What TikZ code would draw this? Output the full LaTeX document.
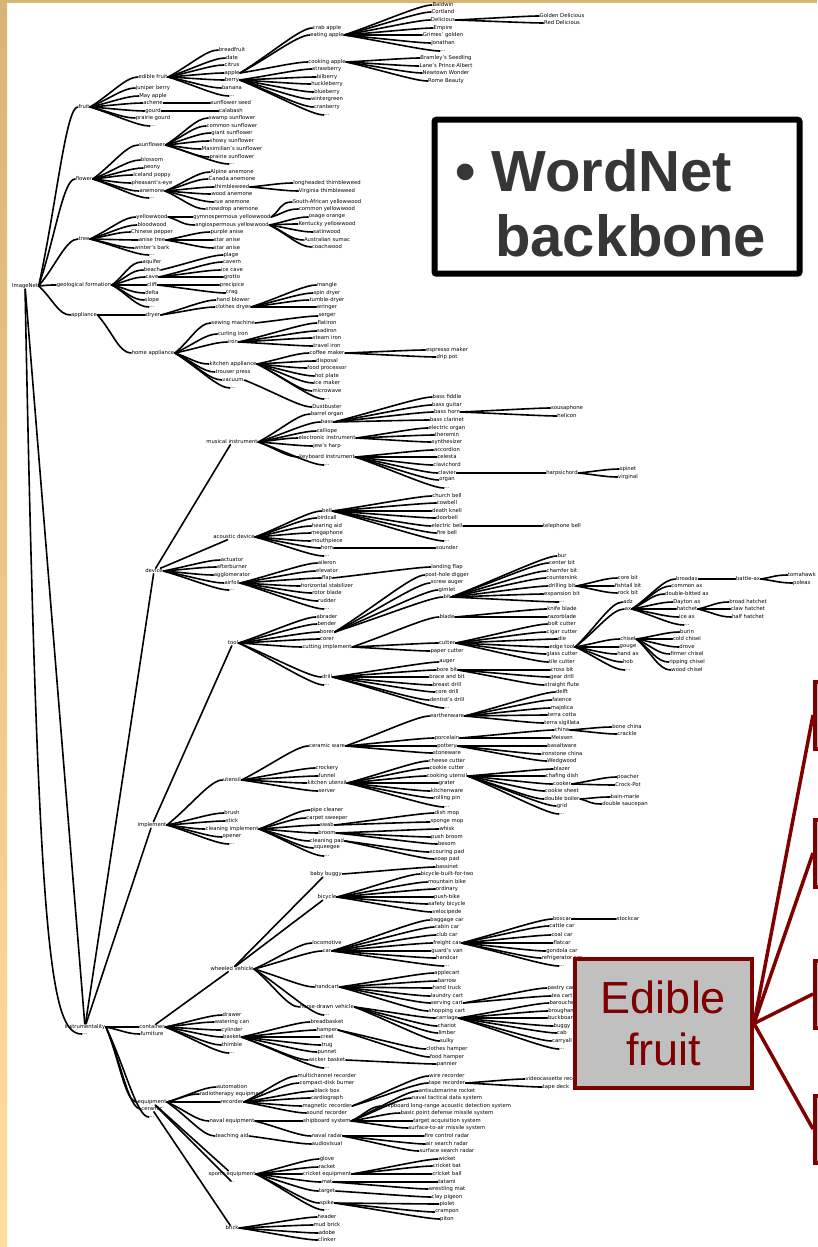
\documentclass[tikz,border=0pt]{standalone}
\usepackage{fontspec}
\setmainfont{DejaVu Sans}
\newfontfamily\headfont{Liberation Sans}
\usetikzlibrary{calc}

\definecolor{darkred}{HTML}{800000}
\definecolor{boxgray}{HTML}{C0C0C0}
\definecolor{headgray}{HTML}{363636}
\definecolor{goldtop}{HTML}{D8B574}
\definecolor{goldbot}{HTML}{FFDDA0}

\newcommand\nodefont{\fontsize{5.3}{5.3}\selectfont}
\newcommand\threedots{...}
% children of #1 in a column at x=#2
\newcommand\fan[3]{\foreach \n/\y/\txt in {#3}{%
  \node[lbl] (\n) at (#2,\y) {\txt};
  \draw[br] (#1.east) .. controls ($(#1.east)!0.45!(\n.west)$) and ($(\n.west)+(-12,0)$) .. (\n.west);}}

\begin{document}
\begin{tikzpicture}[x=1pt,y=-1pt,
  lbl/.style={font=\nodefont,inner sep=0.5pt},
  br/.style={line width=1.6pt,line cap=round},
  redline/.style={darkred,line width=3.5pt},
  sidebox/.style={draw=darkred,line width=4pt,fill=boxgray,minimum width=90pt,minimum height=67pt,anchor=west}
]
\useasboundingbox (0,0) rectangle (817,1247);
\shade[top color=goldtop,bottom color=goldbot] (0,0) rectangle (7,1247);
\fill[goldtop] (0,0) rectangle (817,3);

% root
\node[lbl] (root) at (25,286) {ImageNet};
\fan{root}{84}{fruit/107/fruit, flower/179/flower, tree/239/tree, geo/285/geological formation, appl/315/appliance}
\node[lbl] (instr) at (85,1027) {instrumentality};
\node[lbl] (rdots) at (85,1034) {\threedots};
\draw[br] (root) -- (instr);
\draw[br] (root) .. controls (38,950) and (50,1034) .. (rdots.west);

% fruit
\fan{fruit}{153}{edfruit/77/edible fruit, juniper/88/juniper berry, mayapple/96/May apple, achene/103/achene, gourd/111/gourd, prgourd/118/prairie gourd, frdots/126/\threedots}
\fan{edfruit}{232}{breadfr/50/breadfruit, date/58/date, citrus/65/citrus, apple/73/apple, berry/80/berry, banana/88/banana, efdots/96/\threedots}
\fan{apple}{327}{crabap/28/crab apple, eatap/35/eating apple, cookap/62/cooking apple}
\fan{berry}{327}{strawb/69/strawberry, bilb/77/bilberry, huckleb/84/huckleberry, blueb/92/blueberry, winterg/99/wintergreen, cranb/107/cranberry, berdots/115/\threedots}
\fan{eatap}{443}{baldwin/5/Baldwin, cortland/12/Cortland, delicious/20/Delicious, empire/28/Empire, grimes/35/Grimes' golden, jonathan/43/Jonathan, eatdots/51/\threedots}
\fan{delicious}{562}{golddel/16/Golden Delicious, reddel/23/Red Delicious}
\fan{cookap}{446}{bramley/58/Bramley's Seedling, lanes/66/Lane's Prince Albert, newtown/73/Newtown Wonder, rome/81/Rome Beauty}
\fan{achene}{231}{samara/103/sunflower seed}
\fan{gourd}{231}{calabash/111/calabash}

% flower
\fan{flower}{152}{sunflower/145/sunflower, blossom/160/blossom, peony/168/peony, celandine/175/Iceland poppy, pheasant/183/pheasant's-eye, anemone/191/anemone, fldots/198/\threedots}
\fan{sunflower}{232}{swampsf/118/swamp sunflower, commonsf/126/common sunflower, giantsf/133/giant sunflower, showysf/141/showy sunflower, maxsf/149/Maximilian's sunflower, prairiesf/157/prairie sunflower, sfdots/164/\threedots}
\fan{anemone}{232}{alpanem/172/Alpine anemone, canadanem/179/Canada anemone, thimble/187/thimbleweed, woodanem/194/wood anemone, rueanem/202/rue anemone, snowanem/209/snowdrop anemone}
\fan{thimble}{327}{longthimb/183/longheaded thimbleweed, virgthimb/191/Virginia thimbleweed}

% tree
\fan{tree}{152}{yellowwd/217/yellowwood, bloodwd/225/bloodwood, chpepper/232/Chinese pepper, anise/240/anise tree, winters/248/winter's bark, trdots/255/\threedots}
\fan{yellowwd}{232}{gymyw/217/gymnospermous yellowwood, angyw/225/angiospermous yellowwood}
\fan{gymyw}{327}{safyw/202/South-African yellowwood, commyw/209/common yellowwood}
\fan{angyw}{327}{osage/217/osage orange, kentyw/224/Kentucky yellowwood, satinwd/232/satinwood, aussumac/240/Australian sumac, coachwd/247/coachwood}
\fan{anise}{227}{purpanise/232/purple anise, staranise/240/star anise, staranisb/248/star anise}

% geological formation
\fan{geo}{152}{aquifer/262/aquifer, beach/270/beach, cave/277/cave, cliff/285/cliff, delta/293/delta, slope/300/slope, geodots/307/\threedots}
\fan{beach}{231}{plage/255/plage}
\fan{cave}{232}{cavern/262/cavern, icecave/270/ice cave, grotto/277/grotto}
\fan{cliff}{232}{precipice/285/precipice, crag/293/crag}

% appliance
\fan{appl}{153}{dryer/315/dryer, homeapp/353/home appliance}
\fan{dryer}{233}{handblow/300/hand blower, clothdry/307/clothes dryer}
\fan{clothdry}{327}{mangle/285/mangle, spindry/293/spin dryer, tumbledry/300/tumble-dryer, wringer/307/wringer}
\fan{homeapp}{233}{sewing/323/sewing machine, curling/334/curling iron, iron/342/iron, kitchapp/364/kitchen appliance, trouser/372/trouser press, vacuum/380/vacuum, hadots/388/\threedots}
\fan{sewing}{327}{serger/316/serger}
\fan{iron}{327}{flatiron/323/flatiron, sadiron/331/sadiron, steamiron/338/steam iron, traveliron/346/travel iron}
\fan{kitchapp}{327}{coffee/353/coffee maker, disposal/361/disposal, foodproc/368/food processor, hotplate/376/hot plate, icemaker/383/ice maker, microwave/391/microwave, kadots/399/\threedots}
\fan{coffee}{447}{espresso/350/espresso maker, drippot/357/drip pot}
\fan{vacuum}{327}{dustbust/407/Dustbuster}

% instrumentality
\node[lbl] (device) at (154,571) {device};
\node[lbl] (implement) at (152,825) {implement};
\draw[br] (instr) -- (device);
\draw[br] (instr) -- (implement);
\fan{instr}{152}{container/1027/container, furniture/1034/furniture, equipment/1102/equipment, ceramic/1109/ceramic, indots/1117/\threedots}

% device
\node[lbl] (musical) at (232,442) {musical instrument};
\node[lbl] (acoustic) at (234,537) {acoustic device};
\draw[br] (device) -- (musical);
\draw[br] (device) -- (acoustic);
\fan{device}{232}{actuator/560/actuator, afterburn/567/afterburner, agglom/575/agglomerator, airfoil/583/airfoil, devdots/590/\threedots}
\fan{musical}{327}{barrel/414/barrel organ, bass/422/bass, calliope/431/calliope, electronic/438/electronic instrument, jewsharp/446/jew's harp, keyboard/457/keyboard instrument, musdots/465/\threedots}
\fan{bass}{447}{bassfid/397/bass fiddle, bassguit/405/bass guitar, basshorn/412/bass horn, basscl/420/bass clarinet}
\fan{basshorn}{567}{sousaphone/408/sousaphone, helicon/416/helicon}
\fan{electronic}{447}{eorgan/428/electric organ, theremin/435/theremin, synth/442/synthesizer}
\fan{keyboard}{447}{accordion/450/accordion, celesta/457/celesta, clavichord/465/clavichord, clavier/473/clavier, organ/480/organ, kbdots/488/\threedots}
\fan{clavier}{562}{harpsi/473/harpsichord}
\fan{harpsi}{628}{spinet/469/spinet, virginal/477/virginal}
\fan{acoustic}{327}{bell/511/bell, birdcall/518/birdcall, hearing/526/hearing aid, megaphone/533/megaphone, mouthpiece/541/mouthpiece, horn/548/horn, acdots/556/\threedots}
\fan{bell}{447}{churchbell/496/church bell, cowbell/503/cowbell, deathknell/511/death knell, doorbell/518/doorbell, ebell/526/electric bell, firebell/533/fire bell, belldots/541/\threedots}
\fan{ebell}{562}{telbell/526/telephone bell}
\fan{horn}{447}{sounder/548/sounder}
\fan{airfoil}{327}{aileron/563/aileron, elevator/571/elevator, flap/578/flap, hstab/586/horizontal stabilizer, rotor/593/rotor blade, rudder/601/rudder, afdots/609/\threedots}
\fan{flap}{447}{landflap/567/landing flap}

% implement
\node[lbl] (tool) at (233,643) {tool};
\draw[br] (implement) -- (tool);
\fan{implement}{232}{utensil/780/utensil, brush/813/brush, stick/821/stick, cleaning/829/cleaning implement, opener/837/opener, impdots/844/\threedots}
\fan{tool}{327}{abrader/617/abrader, bender/624/bender, borer/632/borer, corer/639/corer, cutimpl/647/cutting implement, drill/677/drill, tooldots/685/\threedots}
\fan{borer}{447}{postdig/575/post-hole digger, screwaug/583/screw auger, gimlet/590/gimlet, bit/597/bit}
\fan{cutimpl}{447}{blade/617/blade, cutter/643/cutter, papercut/651/paper cutter}
\fan{bit}{562}{bur/556/bur, centerbit/563/center bit, chamfer/571/chamfer bit, countersink/578/countersink, drillbit/586/drilling bit, expbit/594/expansion bit, bitdots/602/\threedots}
\fan{drillbit}{628}{corebit/578/core bit, fishtail/586/fishtail bit, rockbit/593/rock bit}
\fan{blade}{562}{knifeblade/609/knife blade, razorblade/617/razorblade}
\fan{cutter}{562}{boltcut/624/bolt cutter, cigarcut/632/cigar cutter, die/639/die, edgetool/647/edge tool, glasscut/654/glass cutter, tilecut/662/tile cutter}
\fan{edgetool}{628}{adz/602/adz, ax/609/ax, chisel/639/chisel, gouge/647/gouge, handax/654/hand ax, hob/662/hob, etdots/670/\threedots}
\fan{ax}{687}{broadax/579/broadax, commonax/586/common ax, doubleax/594/double-bitted ax, dayton/602/Dayton ax, hatchet/609/hatchet, iceax/617/ice ax, axdots/625/\threedots}
\fan{broadax}{748}{battleax/579/battle-ax}
\fan{battleax}{802}{tomahawk/575/tomahawk, poleax/583/poleax}
\fan{hatchet}{748}{broadhat/602/broad hatchet, clawhat/609/claw hatchet, halfhat/617/half hatchet}
\fan{chisel}{687}{burin/632/burin, coldch/639/cold chisel, drove/647/drove, firmer/654/firmer chisel, ripping/662/ripping chisel, woodch/670/wood chisel}
\fan{drill}{447}{drauger/662/auger, borebit/670/bore bit, brace/677/brace and bit, breast/685/breast drill, coredrill/692/core drill, dentist/700/dentist's drill, drdots/708/\threedots}
\fan{borebit}{562}{crossbit/670/cross bit, geardr/677/gear drill, flute/685/straight flute}

% utensil
\fan{utensil}{327}{cerware/746/ceramic ware, crockery/768/crockery, funnel/776/funnel, kitchut/783/kitchen utensil, server/791/server}
\fan{cerware}{447}{earthen/716/earthenware, porcelain/738/porcelain, pottery/746/pottery, stoneware/753/stoneware}
\fan{earthen}{562}{delft/692/delft, faience/700/faience, majolica/708/majolica, terracotta/715/terra cotta, sigillata/723/terra sigillata}
\fan{porcelain}{562}{china/730/china, meissen/738/Meissen}
\fan{pottery}{562}{basalt/746/basaltware, ironstone/754/ironstone china, wedgwood/761/Wedgwood}
\fan{china}{627}{bonechina/727/bone china, crackle/734/crackle}
\fan{kitchut}{447}{cheesecut/761/cheese cutter, cookiecut/768/cookie cutter, cookut/776/cooking utensil, grater/783/grater, kitchware/791/kitchenware, rollpin/798/rolling pin, kudots/807/\threedots}
\fan{cookut}{562}{blazer/769/blazer, chafing/776/chafing dish, cooker/784/cooker, cooksheet/791/cookie sheet, dboiler/799/double boiler, grid/806/grid, cudots/814/\threedots}
\fan{cooker}{628}{poacher/777/poacher, crockpot/785/Crock-Pot}
\fan{dboiler}{625}{bainmarie/797/bain-marie, saucepan/804/double saucepan}

% cleaning implement
\fan{cleaning}{327}{pipecl/810/pipe cleaner, carpsw/818/carpet sweeper, swab/825/swab, broom/833/broom, cleanpad/841/cleaning pad, squeegee/848/squeegee, cldots/856/\threedots}
\fan{swab}{447}{dishmop/813/dish mop, spongemop/822/sponge mop}
\fan{broom}{447}{whisk/829/whisk, pushbroom/837/push broom, besom/844/besom}
\fan{cleanpad}{447}{scourpad/852/scouring pad, soappad/859/soap pad}

% container
\node[lbl] (wheeled) at (232,969) {wheeled vehicle};
\draw[br] (container) -- (wheeled);
\fan{container}{232}{drawer/1015/drawer, watercan/1022/watering can, cylinder/1030/cylinder, basket/1037/basket, thimble2/1045/thimble, condots/1053/\threedots}
\node[lbl] (babybuggy) at (326,874) {baby buggy};
\node[lbl] (bicycle) at (327,897) {bicycle};
\draw[br] (wheeled) -- (babybuggy);
\draw[br] (wheeled) -- (bicycle);
\fan{wheeled}{327}{locomotive/943/locomotive, car/951/car, handcart/987/handcart, horsedrawn/1007/horse-drawn vehicle, wvdots/1015/\threedots}
\fan{babybuggy}{447}{bassinet/867/bassinet}
\fan{bicycle}{447}{tandem/874/bicycle-built-for-two, mtbike/882/mountain bike, ordinary/889/ordinary, pushbike/897/push-bike, safetybike/904/safety bicycle, velocipede/912/velocipede}
\fan{car}{447}{baggage/920/baggage car, cabin/927/cabin car, club/935/club car, freight/943/freight car, guards/951/guard's van, handcar/958/handcar, cardots/966/\threedots}
\fan{freight}{562}{boxcar/919/boxcar, cattle/926/cattle car, coal/935/coal car, flatcar/943/flatcar, gondola/951/gondola car, refrig/958/refrigerator car, frtdots/966/\threedots}
\fan{boxcar}{628}{stockcar/919/stockcar}
\fan{handcart}{447}{applecart/973/applecart, barrow/981/barrow, handtruck/988/hand truck, laundry/996/laundry cart, serving/1003/serving cart, shopping/1011/shopping cart}
\fan{serving}{562}{pastry/988/pastry cart, teacart/996/tea cart}
\fan{horsedrawn}{447}{carriage/1018/carriage, chariot/1026/chariot, limber/1033/limber, sulky/1041/sulky}
\fan{carriage}{562}{barouche/1003/barouche, brougham/1011/brougham, buckboard/1018/buckboard, buggy/1026/buggy, cab/1033/cab, carryall/1041/carryall, crgdots/1049/\threedots}
\fan{basket}{327}{breadbask/1022/breadbasket, hamper/1030/hamper, creel/1037/creel, trug/1045/trug, punnet/1052/punnet, wicker/1060/wicker basket, baskdots/1068/\threedots}
\fan{hamper}{447}{clothham/1049/clothes hamper, foodham/1057/food hamper}
\fan{wicker}{447}{pannier/1064/pannier}

% equipment and ceramic
\fan{equipment}{232}{automat/1087/automation, radiother/1094/radiotherapy equipment, recorder/1102/recorder, naval/1121/naval equipment, teaching/1136/teaching aid}
\node[lbl] (sports) at (232,1174) {sports equipment};
\node[lbl] (eqdots) at (232,1182) {\threedots};
\node[lbl] (brick) at (232,1228) {brick};
\draw[br] (equipment) -- (sports);
\draw[br] (equipment) -- (eqdots);
\draw[br] (ceramic) -- (brick);
\fan{recorder}{327}{multich/1076/multichannel recorder, cdburner/1083/compact-disk burner, blackbox/1091/black box, cardio/1098/cardiograph, magrec/1106/magnetic recorder, soundrec/1113/sound recorder}
\fan{magrec}{447}{wirerec/1076/wire recorder, taperec/1083/tape recorder}
\fan{taperec}{556}{vcr/1079/videocassette recorder, deck/1087/tape deck}
\fan{naval}{327}{shipboard/1121/shipboard system, navradar/1136/naval radar}
\fan{teaching}{327}{audiovis/1144/audiovisual}
\fan{shipboard}{447}{asroc/1091/antisubmarine rocket, ntds/1098/naval tactical data system, slad/1106/shipboard long-range acoustic detection system, bpdms/1113/basic point defense missile system, tas/1121/target acquisition system, sam/1128/surface-to-air missile system}
\fan{navradar}{447}{fcr/1136/fire control radar, asr/1144/air search radar, ssr/1151/surface search radar}
\fan{sports}{327}{glove/1159/glove, racket/1167/racket, crickeq/1174/cricket equipment, mat/1182/mat, target/1191/target, spike/1203/spike, spdots/1210/\threedots}
\fan{crickeq}{447}{wicket/1159/wicket, crickbat/1166/cricket bat, crickball/1174/cricket ball}
\fan{mat}{447}{tatami/1182/tatami, wrestmat/1189/wrestling mat}
\fan{target}{447}{claypig/1197/clay pigeon}
\fan{spike}{447}{piolet/1204/piolet, crampon/1212/crampon, piton/1219/piton}
\fan{brick}{327}{header/1217/header, mudbrick/1225/mud brick, adobe/1233/adobe, clinker/1240/clinker}

% callout boxes
\node[draw,line width=6pt,rounded corners=2pt,fill=white,minimum width=365pt,minimum height=154pt] (wnbox) at (617,196.7) {};
\node[font=\headfont\bfseries\fontsize{58}{65}\selectfont,text=headgray,anchor=base west,inner sep=0pt] (wnA) at (455,191.7) {• WordNet};
\node[font=\headfont\bfseries\fontsize{58}{65}\selectfont,text=headgray,anchor=base west,inner sep=0pt] (wnB) at (495,256.7) {backbone};

\node[sidebox] (rb1) at (813,715) {};
\node[sidebox] (rb2) at (813,853) {};
\node[sidebox] (rb3) at (813,994) {};
\node[sidebox] (rb4) at (813,1129) {};
\node[draw=darkred,line width=4pt,fill=boxgray,minimum width=177pt,minimum height=129pt,
  font=\headfont\fontsize{45}{52}\selectfont,text=darkred,align=center] (efbox) at (663.5,1023.5) {Edible\\fruit};
\draw[redline] (efbox.east) -- (rb1.west);
\draw[redline] (efbox.east) -- (rb2.west);
\draw[redline] (efbox.east) -- (rb3.west);
\draw[redline] (efbox.east) -- (rb4.west);
\end{tikzpicture}
\end{document}
